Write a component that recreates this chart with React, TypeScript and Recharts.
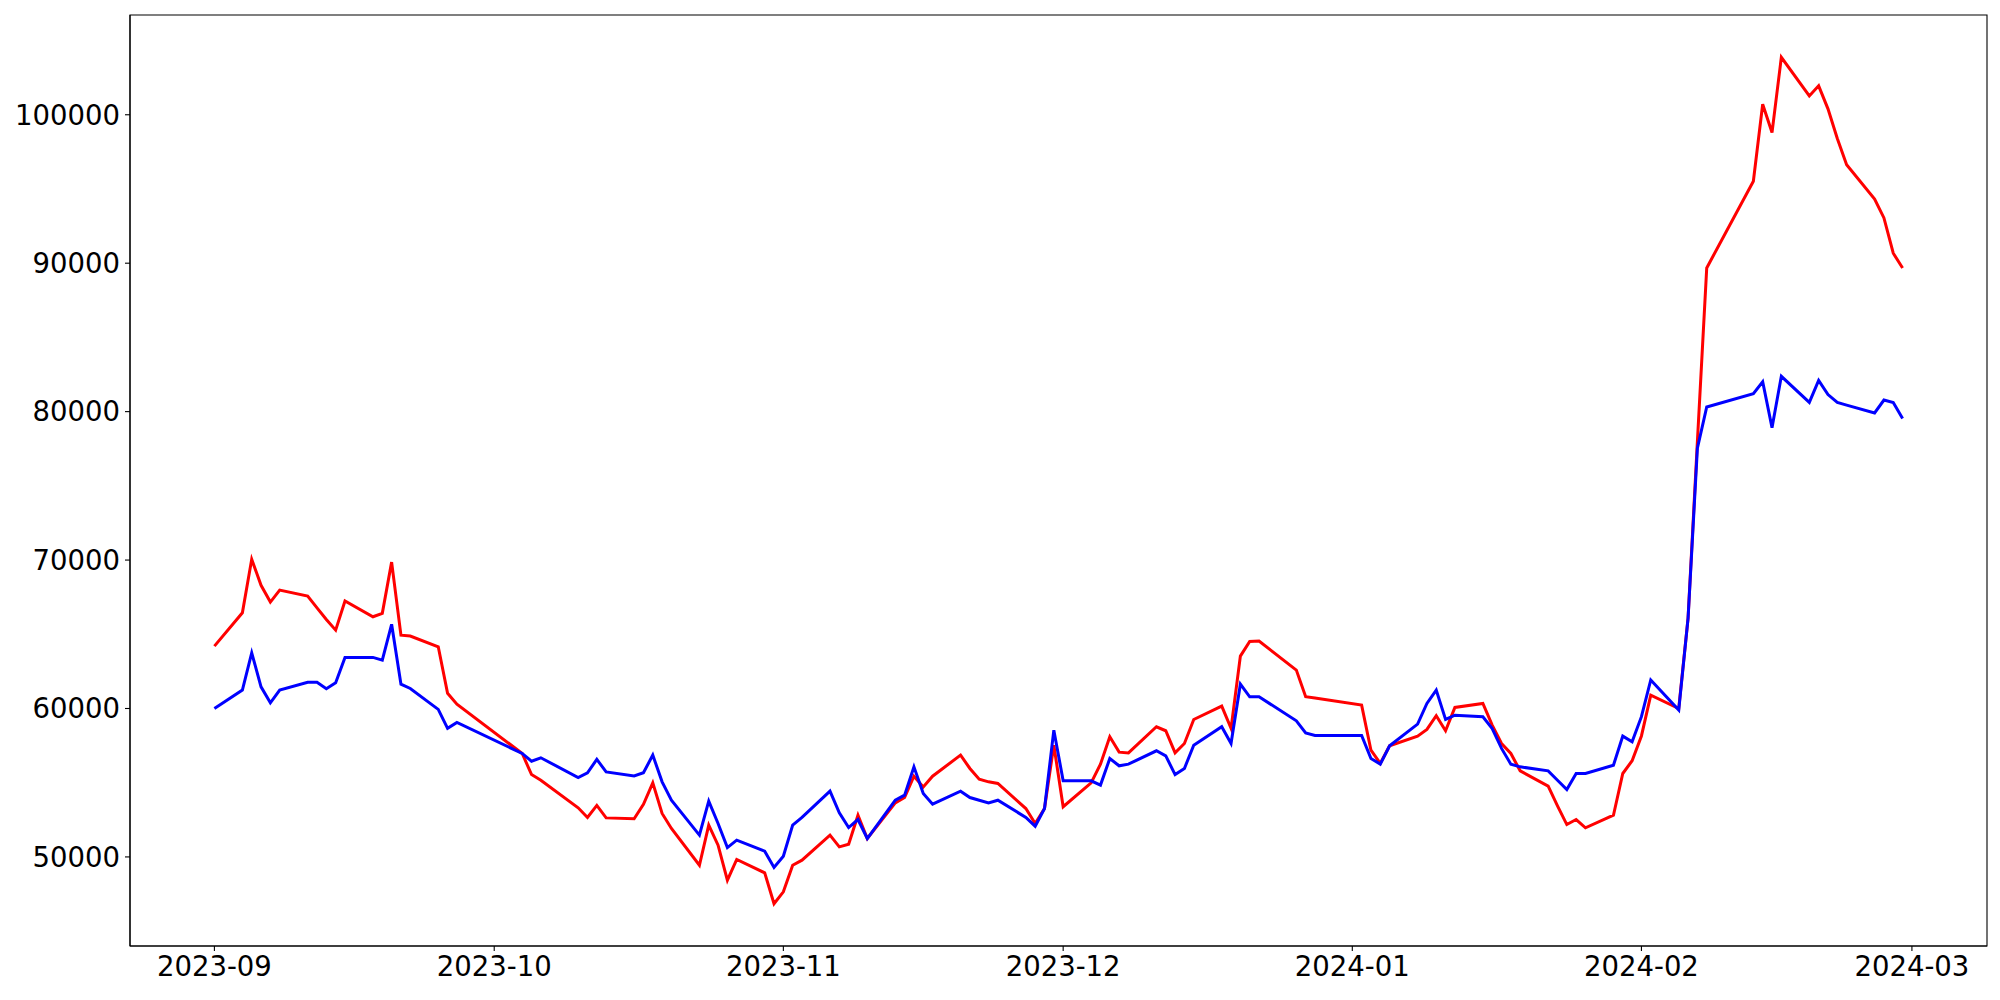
import React from "react";
import { LineChart, Line, XAxis, YAxis, ReferenceArea } from "recharts";

const dates: string[] = [
  "2023-09-01","2023-09-04","2023-09-05","2023-09-06","2023-09-07","2023-09-08","2023-09-11","2023-09-12","2023-09-13","2023-09-14","2023-09-15","2023-09-18","2023-09-19","2023-09-20","2023-09-21","2023-09-22","2023-09-25","2023-09-26","2023-09-27",
  "2023-10-04","2023-10-05","2023-10-06","2023-10-10","2023-10-11","2023-10-12","2023-10-13","2023-10-16","2023-10-17","2023-10-18","2023-10-19","2023-10-20","2023-10-23","2023-10-24","2023-10-25","2023-10-26","2023-10-27","2023-10-30","2023-10-31",
  "2023-11-01","2023-11-02","2023-11-03","2023-11-06","2023-11-07","2023-11-08","2023-11-09","2023-11-10","2023-11-13","2023-11-14","2023-11-15","2023-11-16","2023-11-17","2023-11-20","2023-11-21","2023-11-22","2023-11-23","2023-11-24","2023-11-27","2023-11-28","2023-11-29","2023-11-30",
  "2023-12-01","2023-12-04","2023-12-05","2023-12-06","2023-12-07","2023-12-08","2023-12-11","2023-12-12","2023-12-13","2023-12-14","2023-12-15","2023-12-18","2023-12-19","2023-12-20","2023-12-21","2023-12-22","2023-12-26","2023-12-27","2023-12-28",
  "2024-01-02","2024-01-03","2024-01-04","2024-01-05","2024-01-08","2024-01-09","2024-01-10","2024-01-11","2024-01-12","2024-01-15","2024-01-16","2024-01-17","2024-01-18","2024-01-19","2024-01-22","2024-01-23","2024-01-24","2024-01-25","2024-01-26","2024-01-29","2024-01-30","2024-01-31",
  "2024-02-01","2024-02-02","2024-02-05","2024-02-06","2024-02-07","2024-02-08","2024-02-13","2024-02-14","2024-02-15","2024-02-16","2024-02-19","2024-02-20","2024-02-21","2024-02-22","2024-02-23","2024-02-26","2024-02-27","2024-02-28","2024-02-29",
];

const redSeries: number[] = [
  64200, 66450, 70050, 68300, 67170, 67980, 67570, 66780, 66000, 65280, 67240, 66180, 66410, 69860, 64940, 64880, 64160, 61020, 60290,
  56970, 55550, 55170, 53310, 52660, 53470, 52630, 52570, 53550, 54990, 52930, 51920, 49440, 52140, 50790, 48430, 49830, 48930, 46850,
  47650, 49440, 49780, 51470, 50680, 50860, 52810, 51240, 53640, 54000, 55440, 54720, 55440, 56860, 55960, 55240, 55060, 54950, 53260, 52250, 53260, 57530,
  53380, 54990, 56250, 58090, 57060, 57010, 58770, 58500, 57010, 57640, 59260, 60160, 58660, 63530, 64520, 64540, 62590, 60790, 60700,
  60230, 57190, 56300, 57490, 58140, 58590, 59510, 58500, 60070, 60340, 58880, 57640, 56970, 55800, 54770, 53440, 52180, 52520, 51960, 52810, 55620, 56480,
  58150, 60900, 60000, 66090, 78000, 89680, 95520, 100710, 98800, 103870, 101270, 101950, 100400, 98400, 96630, 94320, 93050, 90670, 89680,
];

const blueSeries: number[] = [
  60000, 61240, 63750, 61460, 60380, 61240, 61760, 61760, 61330, 61730, 63440, 63440, 63260, 65670, 61640, 61350, 59940, 58660, 59060,
  56970, 56450, 56680, 55350, 55670, 56570, 55730, 55460, 55670, 56860, 55060, 53820, 51470, 53760, 52250, 50630, 51130, 50390, 49290,
  50050, 52140, 52660, 54430, 52970, 51980, 52520, 51240, 53820, 54160, 56070, 54270, 53550, 54430, 54000, 53820, 53640, 53820, 52660, 52070, 53260, 58540,
  55130, 55130, 54840, 56630, 56140, 56250, 57150, 56810, 55550, 55960, 57530, 58770, 57640, 61640, 60790, 60790, 59170, 58360, 58180,
  58180, 56630, 56250, 57490, 58950, 60340, 61240, 59260, 59550, 59440, 58650, 57310, 56250, 56070, 55800, 55170, 54540, 55620, 55620, 56180, 58140, 57760,
  59450, 61920, 59900, 66090, 77530, 80310, 81210, 82010, 78920, 82380, 80620, 82110, 81150, 80620, 80440, 79910, 80780, 80620, 79540,
];

const xTickLabels: string[] = ["2023-09", "2023-10", "2023-11", "2023-12", "2024-01", "2024-02", "2024-03"];
const yTicks: number[] = [50000, 60000, 70000, 80000, 90000, 100000];

const toTs = (s: string) => Date.parse(s + "T00:00:00Z");

const data = dates.map((d, i) => ({ t: toTs(d), red: redSeries[i], blue: blueSeries[i] }));

const tFirst = data[0].t;
const tLast = data[data.length - 1].t;
const tPad = (tLast - tFirst) * 0.05;
const xDomain: [number, number] = [tFirst - tPad, tLast + tPad];

const allVals = [...redSeries, ...blueSeries];
const vMin = Math.min(...allVals);
const vMax = Math.max(...allVals);
const vPad = (vMax - vMin) * 0.05;
const yDomain: [number, number] = [vMin - vPad, vMax + vPad];

const xTicks = xTickLabels.map((m) => toTs(m + "-01"));

const fmtMonth = (v: number) => {
  const d = new Date(v);
  const mm = String(d.getUTCMonth() + 1).padStart(2, "0");
  return `${d.getUTCFullYear()}-${mm}`;
};

const tickStyle = { fontFamily: "DejaVu Sans", fontSize: 27.5, fill: "#000" };

export default function App() {
  return (
    <div style={{ position: "absolute", left: 0, top: 0, width: 2000, height: 1000, background: "#fff" }}>
      <LineChart width={2000} height={1000} data={data} margin={{ top: 15, right: 13, bottom: 0, left: 0 }}>
        <XAxis
          dataKey="t"
          type="number"
          scale="linear"
          domain={xDomain}
          allowDataOverflow
          ticks={xTicks}
          tickFormatter={fmtMonth}
          interval={0}
          height={54}
          tickSize={5}
          tickMargin={5}
          tick={tickStyle}
          axisLine={{ stroke: "#000", strokeWidth: 1.1 }}
          tickLine={{ stroke: "#000", strokeWidth: 1.1 }}
        />
        <YAxis
          type="number"
          domain={yDomain}
          allowDataOverflow
          ticks={yTicks}
          interval={0}
          width={130}
          tickSize={5}
          tickMargin={5}
          tick={tickStyle}
          axisLine={{ stroke: "#000", strokeWidth: 1.1 }}
          tickLine={{ stroke: "#000", strokeWidth: 1.1 }}
        />
        <ReferenceArea
          x1={xDomain[0]}
          x2={xDomain[1]}
          y1={yDomain[0]}
          y2={yDomain[1]}
          fill="none"
          fillOpacity={0}
          stroke="#000"
          strokeWidth={1.1}
          ifOverflow="visible"
        />
        <Line type="linear" dataKey="red" stroke="#ff0000" strokeWidth={3} dot={false} isAnimationActive={false} />
        <Line type="linear" dataKey="blue" stroke="#0000ff" strokeWidth={3} dot={false} isAnimationActive={false} />
      </LineChart>
    </div>
  );
}
